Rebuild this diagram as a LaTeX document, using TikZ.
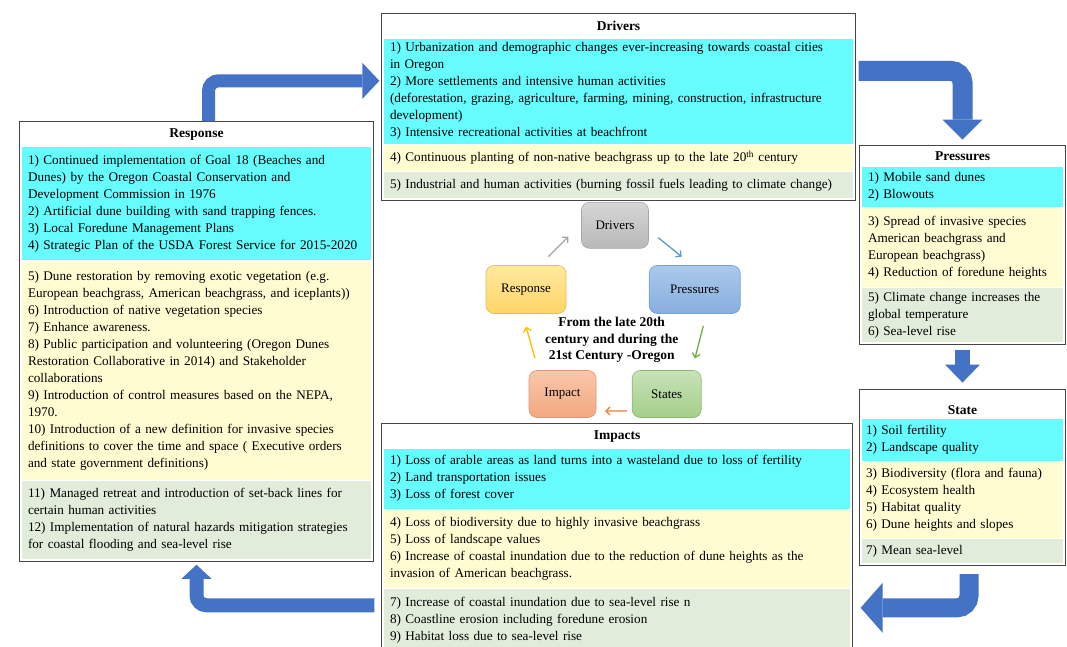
\documentclass[tikz,border=0pt]{standalone}
\usepackage{fontspec}
\setmainfont{Liberation Serif}
\usepackage{xcolor}
\usetikzlibrary{positioning,arrows.meta,calc,fit}

\definecolor{bandcyan}{RGB}{102,251,253}
\definecolor{bandyellow}{RGB}{255,252,210}
\definecolor{bandgreen}{RGB}{226,236,219}
\definecolor{framegray}{RGB}{70,70,70}
\definecolor{blockblue}{RGB}{68,114,196}
\definecolor{drvtop}{RGB}{214,214,214}
\definecolor{drvbot}{RGB}{184,184,184}
\definecolor{drvline}{RGB}{165,165,165}
\definecolor{prstop}{RGB}{170,201,236}
\definecolor{prsbot}{RGB}{136,175,222}
\definecolor{prsline}{RGB}{120,158,210}
\definecolor{statop}{RGB}{200,226,184}
\definecolor{stabot}{RGB}{164,206,138}
\definecolor{staline}{RGB}{140,186,112}
\definecolor{imptop}{RGB}{249,199,170}
\definecolor{impbot}{RGB}{243,168,128}
\definecolor{impline}{RGB}{226,150,112}
\definecolor{rsptop}{RGB}{255,232,160}
\definecolor{rspbot}{RGB}{255,214,102}
\definecolor{rspline}{RGB}{230,190,80}
\definecolor{arrblue}{RGB}{91,155,213}
\definecolor{arrgreen}{RGB}{112,173,71}
\definecolor{arrorange}{RGB}{237,125,49}
\definecolor{arrgold}{RGB}{255,192,0}
\definecolor{arrgray}{RGB}{165,165,165}

\newcommand{\bodyfs}{\fontsize{13.2}{17}\selectfont}
\newcommand{\hdrfs}{\fontsize{13.5}{16}\selectfont\bfseries}
\newcommand{\cycfs}{\fontsize{13}{15}\selectfont}
\newcommand{\cntfs}{\fontsize{13.5}{16.7}\selectfont\bfseries}

\begin{document}
\begin{tikzpicture}[
  x=1pt, y=-1pt,
  hdr/.style     ={font=\hdrfs, align=center, anchor=north,
                   inner ysep=0pt, minimum height=22pt},
  band/.style    ={font=\bodyfs, align=left, inner ysep=0pt},
  drvw/.style    ={text width=457pt, inner xsep=6pt},
  impw/.style    ={text width=454pt, inner xsep=6pt},
  prsw/.style    ={text width=189pt, inner xsep=6pt},
  staw/.style    ={text width=193pt, inner xsep=4pt},
  rspw/.style    ={text width=337pt, inner xsep=6pt},
  boxframe/.style={draw=framegray, line width=0.9pt, inner sep=2pt},
  cycnode/.style ={rounded corners=8pt, font=\cycfs, align=center,
                   line width=0.6pt},
  cyca/.style    ={line width=1.3pt, -{Straight Barb[length=4pt,width=8pt]}},
  block/.style   ={draw=blockblue, rounded corners=10pt}
]

\path[use as bounding box, fill=white] (0,0) rectangle (1067,646);

%% --- Drivers (top) -------------------------------------------
\node[hdr, drvw] (drvHd) at (618.5,15) {Drivers};
\node[band, drvw, fill=bandcyan, minimum height=105pt, below=1pt of drvHd] (drvC)
     {1) Urbanization and demographic changes ever-increasing towards coastal cities\\
      in Oregon\\
      2) More settlements and intensive human activities\\
      (deforestation, grazing, agriculture, farming, mining, construction, infrastructure\\
      development)\\
      3) Intensive recreational activities at beachfront};
\node[band, drvw, fill=bandyellow, minimum height=26pt, below=1pt of drvC] (drvY)
     {4) Continuous planting of non-native beachgrass up to the late 20\textsuperscript{th} century};
\node[band, drvw, fill=bandgreen, minimum height=26pt, below=1pt of drvY] (drvG)
     {5) Industrial and human activities (burning fossil fuels leading to climate change)};
\node[boxframe, fit=(drvHd)(drvC)(drvY)(drvG)] (drv) {};

%% --- Pressures (right, upper) --------------------------------
\node[hdr, prsw, minimum height=18pt] (prsHd) at (962.5,147) {Pressures};
\node[band, prsw, fill=bandcyan, minimum height=40pt, below=1pt of prsHd] (prsC)
     {1) Mobile sand dunes\\
      2) Blowouts};
\node[band, prsw, fill=bandyellow, minimum height=79pt, below=1pt of prsC] (prsY)
     {3) Spread of invasive species\\
      American beachgrass and\\
      European beachgrass)\\
      4) Reduction of foredune heights};
\node[band, prsw, fill=bandgreen, minimum height=54pt, below=1pt of prsY] (prsG)
     {5) Climate change increases the\\
      global temperature\\
      6) Sea-level rise};
\node[boxframe, fit=(prsHd)(prsC)(prsY)(prsG)] (prs) {};

%% --- State (right, lower) ------------------------------------
\node[hdr, staw, minimum height=0pt, text height=23.5pt, text depth=2.5pt] (staHd)
     at (962.5,391) {State};
\node[band, staw, fill=bandcyan, minimum height=42pt, below=1pt of staHd] (staC)
     {1) Soil fertility\\
      2) Landscape quality};
\node[band, staw, fill=bandyellow, minimum height=76pt, below=1pt of staC] (staY)
     {3) Biodiversity (flora and fauna)\\
      4) Ecosystem health\\
      5) Habitat quality\\
      6) Dune heights and slopes};
\node[band, staw, fill=bandgreen, minimum height=24pt, below=1pt of staY] (staG)
     {7) Mean sea-level};
\node[boxframe, fit=(staHd)(staC)(staY)(staG)] (sta) {};

%% --- Impacts (bottom) ----------------------------------------
\node[hdr, impw] (impHd) at (617,425) {Impacts};
\node[band, impw, fill=bandcyan, minimum height=60pt, below=1pt of impHd] (impC)
     {1) Loss of arable areas as land turns into a wasteland due to loss of fertility\\
      2) Land transportation issues\\
      3) Loss of forest cover};
\node[band, impw, fill=bandyellow, minimum height=78pt, below=1pt of impC] (impY)
     {4) Loss of biodiversity due to highly invasive beachgrass\\
      5) Loss of landscape values\\
      6) Increase of coastal inundation due to the reduction of dune heights as the\\
      invasion of American beachgrass.};
\node[band, impw, fill=bandgreen, minimum height=62pt, below=1pt of impY] (impG)
     {7) Increase of coastal inundation due to sea-level rise n\\
      8) Coastline erosion including foredune erosion\\
      9) Habitat loss due to sea-level rise};
\node[boxframe, fit=(impHd)(impC)(impY)(impG)] (imp) {};

%% --- Response (left) -----------------------------------------
\node[hdr, rspw] (rspHd) at (196.5,123.7) {Response};
\node[band, rspw, fill=bandcyan, minimum height=113pt, below=1pt of rspHd] (rspC)
     {1) Continued implementation of Goal 18 (Beaches and\\
      Dunes) by the Oregon Coastal Conservation and\\
      Development Commission in 1976\\
      2) Artificial dune building with sand trapping fences.\\
      3) Local Foredune Management Plans\\
      4) Strategic Plan of the USDA Forest Service for 2015-2020};
\node[band, rspw, fill=bandyellow, minimum height=218pt, below=1pt of rspC] (rspY)
     {5) Dune restoration by removing exotic vegetation (e.g.\\
      European beachgrass, American beachgrass, and iceplants))\\
      6) Introduction of native vegetation species\\
      7) Enhance awareness.\\
      8) Public participation and volunteering (Oregon Dunes\\
      Restoration Collaborative in 2014) and Stakeholder\\
      collaborations\\
      9) Introduction of control measures based on the NEPA,\\
      1970.\\
      10) Introduction of a new definition for invasive species\\
      definitions to cover the time and space ( Executive orders\\
      and state government definitions)};
\node[band, rspw, fill=bandgreen, minimum height=78pt, below=1pt of rspY] (rspG)
     {11) Managed retreat and introduction of set-back lines for\\
      certain human activities\\
      12) Implementation of natural hazards mitigation strategies\\
      for coastal flooding and sea-level rise};
\node[boxframe, fit=(rspHd)(rspC)(rspY)(rspG)] (rsp) {};

%% --- Cycle in the middle -------------------------------------
\coordinate (hub) at (614.5,325);
\node[cycnode, top color=drvtop, bottom color=drvbot, draw=drvline,
      minimum width=67pt, minimum height=46pt] (cDrv) at (615,225.3) {Drivers};
\node[cycnode, top color=prstop, bottom color=prsbot, draw=prsline,
      minimum width=91pt, minimum height=48pt] (cPrs) at (694.7,289.5) {Pressures};
\node[cycnode, top color=statop, bottom color=stabot, draw=staline,
      minimum width=69pt, minimum height=47pt] (cSta) at (666.7,394) {States};
\node[cycnode, top color=imptop, bottom color=impbot, draw=impline,
      minimum width=67pt, minimum height=47pt] (cImp) at (562.5,394) {Impact};
\node[cycnode, top color=rsptop, bottom color=rspbot, draw=rspline,
      minimum width=80pt, minimum height=48pt] (cRsp) at (526,289.5) {Response};
\node[font=\cntfs, align=center] (cTxt) at (611.7,340)
     {From the late 20th\\century and during the\\21st Century -Oregon};

% small arrows round the cycle
\draw[cyca, arrblue]   ($(hub)+(-63.4:97.7)$) -- ($(hub)+(-45.5:95.8)$);
\draw[cyca, arrgreen]  ($(hub)+(0.5:88.8)$)   -- ($(hub)+(22.5:87.1)$);
\draw[cyca, arrorange] ($(hub)+(81.9:86.9)$)  -- ($(hub)+(96.3:86.5)$);
\draw[cyca, arrgold]   ($(hub)+(157.3:86.2)$) -- ($(hub)+(178.9:88.5)$);
\draw[cyca, arrgray]   ($(hub)+(-134.1:95.1)$) -- ($(hub)+(-117.6:99.7)$);

%% --- Big block arrows between the boxes ----------------------
% Response -> Drivers
\draw[block, line width=13pt, shorten >=2pt,
      -{Triangle[length=17pt,width=36pt,line width=0pt]}]
     ([xshift=12pt]rsp.north) |- ([yshift=26pt]drv.west);
% Drivers -> Pressures
\draw[block, line width=20pt, rounded corners=12pt, shorten <=3pt, shorten >=5pt,
      -{Triangle[length=20pt,width=40pt,line width=0pt]}]
     ([yshift=36pt]drv.east) -| (prs.north);
% Pressures -> State
\draw[block, line width=15pt, shorten <=5pt, shorten >=6pt,
      -{Triangle[length=18pt,width=35pt,line width=0pt]}]
     (prs.south) -- (sta.north);
% State -> Impacts
\draw[block, line width=19pt, rounded corners=12pt, shorten <=8pt, shorten >=8pt,
      -{Triangle[length=22pt,width=50pt,line width=0pt]}]
     ([xshift=6.5pt]sta.south) |- ([yshift=-69.5pt]imp.east);
% Impacts -> Response
\draw[block, line width=14pt, shorten <=7pt, shorten >=3pt,
      -{Triangle[length=14pt,width=30pt,line width=0pt]}]
     ([yshift=-67pt]imp.west) -| (rsp.south);

\end{tikzpicture}
\end{document}
